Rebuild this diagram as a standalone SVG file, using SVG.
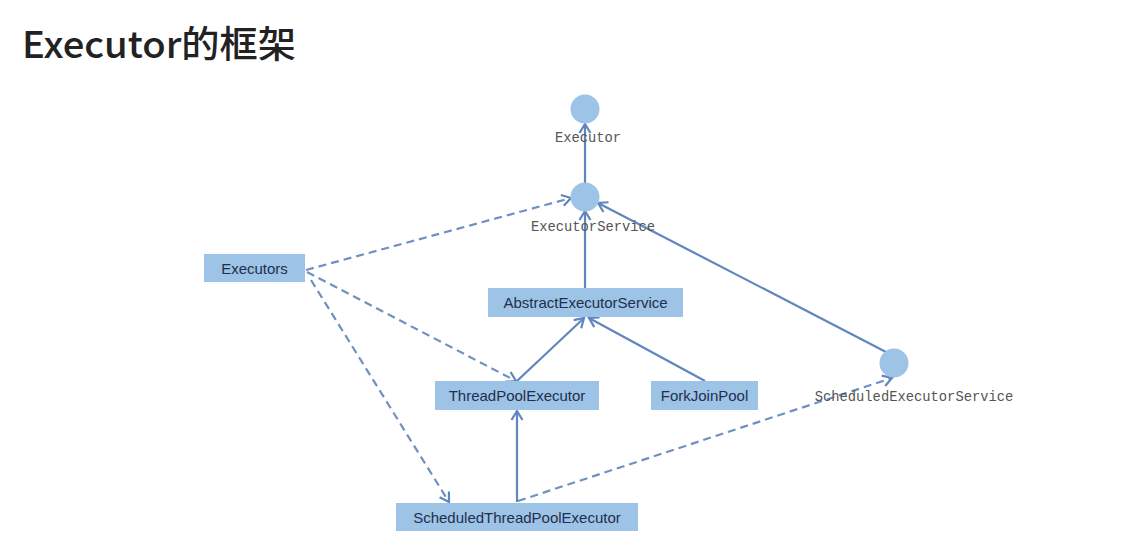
<svg xmlns="http://www.w3.org/2000/svg" width="1123" height="559" viewBox="0 0 1123 559">
<defs>
<marker id="arr" markerUnits="userSpaceOnUse" markerWidth="14" markerHeight="14" viewBox="0 0 14 14" refX="12" refY="7" orient="auto">
<path d="M3,1.5 L12,7 L3,12.5" fill="none" stroke="#5f86bd" stroke-width="2.2" stroke-linejoin="miter"/>
</marker>
</defs>
<style>
.box{fill:#9dc3e6;}
.circ{fill:#9dc3e6;}
.bt{font-family:"Liberation Sans","Open Sans",sans-serif;font-size:15px;fill:#1f2f4d;text-anchor:middle;}
.ct{font-family:"Liberation Mono","DejaVu Sans Mono",monospace;font-size:13.8px;fill:#555;text-anchor:middle;}
.solid{fill:none;stroke:#5f86bd;stroke-width:2.2;marker-end:url(#arr);}
.dash{fill:none;stroke:#6f90c0;stroke-width:2.2;stroke-dasharray:8 5;marker-end:url(#arr);}
</style>
<rect width="1123" height="559" fill="#ffffff"/>
<text x="22" y="58" font-family="'Noto Sans CJK SC','Open Sans',sans-serif" font-size="37" font-weight="500" fill="#222" textLength="274" lengthAdjust="spacingAndGlyphs">Executor的框架</text>

<g id="connectors">
<line class="solid" x1="585" y1="183" x2="585" y2="124"/>
<line class="solid" x1="585" y1="288" x2="585" y2="211"/>
<line class="solid" x1="886" y1="352" x2="598" y2="203"/>
<line class="dash" x1="306" y1="270" x2="571" y2="198"/>
<line class="dash" x1="307" y1="272" x2="516" y2="381"/>
<line class="dash" x1="311" y1="280" x2="449" y2="502"/>
<line class="solid" x1="517" y1="381" x2="584" y2="318"/>
<line class="solid" x1="705" y1="381" x2="589" y2="318"/>
<line class="solid" x1="517" y1="502" x2="517" y2="411"/>
<line class="dash" x1="518" y1="501" x2="892" y2="378"/>
</g>

<g id="executor">
<circle class="circ" cx="585" cy="109" r="14.5"/>
<text class="ct" x="588" y="142">Executor</text>
</g>
<g id="executorService">
<circle class="circ" cx="585" cy="197" r="14.5"/>
<text class="ct" x="593" y="231">ExecutorService</text>
</g>
<g id="scheduledExecutorService">
<circle class="circ" cx="894" cy="363" r="14.5"/>
<text class="ct" x="914" y="401">ScheduledExecutorService</text>
</g>
<g id="executors">
<rect class="box" x="204" y="254" width="101" height="28"/>
<text class="bt" x="254.5" y="273.5">Executors</text>
</g>
<g id="abstractExecutorService">
<rect class="box" x="488" y="288" width="195" height="29"/>
<text class="bt" x="585.5" y="308">AbstractExecutorService</text>
</g>
<g id="threadPoolExecutor">
<rect class="box" x="435" y="381" width="164" height="29"/>
<text class="bt" x="517" y="401">ThreadPoolExecutor</text>
</g>
<g id="forkJoinPool">
<rect class="box" x="651" y="381" width="107" height="29"/>
<text class="bt" x="704.5" y="401">ForkJoinPool</text>
</g>
<g id="scheduledThreadPoolExecutor">
<rect class="box" x="396" y="503" width="242" height="28"/>
<text class="bt" x="517" y="522.5">ScheduledThreadPoolExecutor</text>
</g>
</svg>
